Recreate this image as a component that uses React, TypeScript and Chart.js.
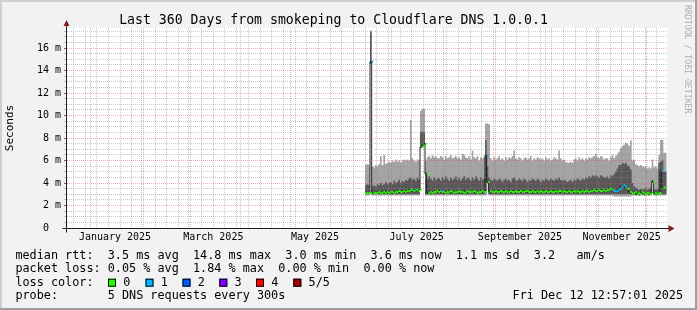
import React, { useEffect, useRef } from 'react';
import { Chart, registerables } from 'chart.js';

Chart.register(...registerables);

const FONT = "'DejaVu Sans Mono', monospace";
Chart.defaults.font.family = FONT;

// ---------- text ----------
const TITLE = 'Last 360 Days from smokeping to Cloudflare DNS 1.0.0.1';
const Y_TITLE = 'Seconds';
const WATERMARK = 'RRDTOOL / TOBI OETIKER';
const ROW_LABELS = ['median rtt:', 'packet loss:', 'loss color:', 'probe:'];
const RTT_STATS = ['3.5 ms avg', '14.8 ms max', '3.0 ms min', '3.6 ms now', '1.1 ms sd', '3.2', 'am/s'];
const LOSS_STATS = ['0.05 % avg', '1.84 % max', '0.00 % min', '0.00 % now'];
const LOSS_LABELS = ['0', '1', '2', '3', '4', '5/5'];
const LOSS_COLORS = ['#26ff00', '#00b8ff', '#0059ff', '#7e00ff', '#ff0000', '#a10000'];
const PROBE_TEXT = '5 DNS requests every 300s';
const DATE_TEXT = 'Fri Dec 12 12:57:01 2025';

// ---------- axes (x in days since 2025-01-01 00:00) ----------
const X_MIN = -13.8;
const X_MAX = 346.2;
const Y_MAX = 17.78; // milliseconds
const MONTH_START_DAYS = [0, 31, 59, 90, 120, 151, 181, 212, 243, 273, 304, 334];
const MONTH_LABEL_DAYS = [15, 74, 135, 196, 258, 319];
const MONTH_LABELS = ['January 2025', 'March 2025', 'May 2025', 'July 2025', 'September 2025', 'November 2025'];
const FIRST_SUNDAY = -10;

// ---------- data: one value per day, first day = 165 (2025-06-15) ----------
const FIRST_DAY = 165;
const maxRtt = [
  5.6, 5.6, 5.7, 5.6, 17.6, 5.5, 5.4, 5.6, 5.5, 5.7,
  6.4, 5.6, 6.5, 5.7, 5.8, 5.9, 5.8, 6.0, 5.9, 6.1,
  5.9, 6.0, 5.8, 6.0, 6.1, 6.0, 6.1, 6.0, 9.6, 6.2,
  6.0, 5.9, 6.1, 6.0, 10.4, 10.6, 10.6, 6.0, 6.3, 6.4,
  6.2, 6.5, 6.3, 6.4, 6.2, 6.2, 6.4, 6.3, 6.1, 6.4,
  6.2, 6.3, 6.5, 6.2, 6.3, 6.4, 6.2, 6.3, 6.1, 6.6,
  6.5, 6.3, 6.2, 6.4, 6.1, 6.9, 6.3, 6.2, 6.4, 6.0,
  6.3, 6.2, 6.3, 9.3, 9.3, 9.2, 6.2, 6.0, 6.3, 6.1,
  6.2, 6.4, 6.1, 6.2, 6.0, 6.3, 6.1, 6.3, 6.2, 6.4,
  6.9, 6.2, 6.1, 6.3, 6.2, 6.0, 6.2, 6.3, 6.1, 6.2,
  6.4, 6.0, 6.2, 6.1, 6.3, 6.2, 6.1, 6.2, 6.0, 6.3,
  6.1, 6.2, 6.0, 6.1, 6.3, 6.2, 6.1, 6.9, 6.2, 6.0,
  6.1, 5.9, 5.8, 5.8, 5.9, 5.8, 6.1, 6.2, 6.0, 6.3,
  6.1, 6.2, 6.0, 6.2, 6.1, 6.3, 6.2, 6.3, 6.4, 6.6,
  6.3, 6.2, 6.4, 6.3, 6.1, 6.2, 6.2, 6.0, 6.3, 6.5,
  6.2, 6.4, 6.6, 6.8, 7.1, 7.3, 7.4, 7.6, 7.5, 7.3,
  7.8, 6.0, 6.1, 5.7, 5.6, 5.5, 5.6, 5.5, 5.4, 5.5,
  5.3, 5.4, 5.3, 6.1, 5.4, 5.5, 5.3, 6.5, 7.85, 7.85,
  6.7,
];
const p75Rtt = [
  3.9, 3.8, 3.9, 3.8, 17.4, 3.7, 3.8, 3.7, 3.9, 3.8,
  4.0, 3.8, 3.9, 4.1, 3.9, 4.0, 4.1, 3.9, 4.2, 4.0,
  4.1, 4.3, 4.0, 4.2, 4.1, 4.3, 4.2, 4.4, 4.5, 4.3,
  4.4, 4.2, 4.5, 4.3, 8.5, 8.6, 8.5, 5.0, 4.3, 4.6,
  4.4, 4.2, 4.5, 4.3, 4.4, 4.4, 4.2, 4.5, 4.3, 4.6,
  4.4, 4.2, 4.5, 4.3, 4.4, 4.6, 4.3, 4.5, 4.2, 4.4,
  4.6, 4.3, 4.5, 4.4, 4.2, 4.5, 4.3, 4.6, 4.4, 4.2,
  4.5, 4.3, 4.4, 7.8, 5.5, 4.5, 4.3, 4.2, 4.4, 4.3,
  4.2, 4.4, 4.3, 4.1, 4.3, 4.4, 4.2, 4.3, 4.1, 4.4,
  4.5, 4.3, 4.2, 4.4, 4.3, 4.2, 4.4, 4.3, 4.1, 4.3,
  4.2, 4.4, 4.3, 4.2, 4.4, 4.3, 4.1, 4.3, 4.2, 4.4,
  4.3, 4.2, 4.4, 4.3, 4.2, 4.4, 4.3, 4.5, 4.3, 4.2,
  4.3, 4.2, 4.1, 4.2, 4.3, 4.1, 4.3, 4.2, 4.4, 4.3,
  4.2, 4.4, 4.3, 4.5, 4.4, 4.6, 4.5, 4.7, 4.6, 4.7,
  4.6, 4.5, 4.7, 4.6, 4.5, 4.5, 4.6, 4.4, 4.7, 4.6,
  4.8, 5.0, 5.3, 5.6, 5.6, 5.8, 5.7, 5.8, 5.6, 5.5,
  5.2, 4.0, 3.7, 3.6, 3.5, 3.4, 3.5, 3.4, 3.5, 3.6,
  3.4, 3.5, 3.6, 4.3, 3.5, 3.4, 3.5, 5.8, 5.9, 6.0,
  5.0,
];
const medianRtt = [
  3.1, 3.1, 3.1, 3.1, 14.8, 3.1, 3.1, 3.1, 3.2, 3.1,
  3.1, 3.2, 3.1, 3.2, 3.1, 3.2, 3.2, 3.1, 3.2, 3.2,
  3.3, 3.2, 3.2, 3.3, 3.2, 3.3, 3.3, 3.4, 3.4, 3.3,
  3.4, 3.4, 3.3, 3.4, 7.2, 7.3, 7.5, 4.8, 3.1, 3.2,
  3.1, 3.2, 3.2, 3.3, 3.2, 3.3, 3.2, 3.2, 3.1, 3.2,
  3.2, 3.3, 3.2, 3.1, 3.2, 3.2, 3.3, 3.2, 3.2, 3.1,
  3.2, 3.3, 3.2, 3.2, 3.2, 3.3, 3.2, 3.1, 3.2, 3.2,
  3.3, 3.2, 3.2, 6.5, 4.1, 3.3, 3.2, 3.2, 3.3, 3.2,
  3.2, 3.3, 3.2, 3.2, 3.3, 3.2, 3.2, 3.3, 3.2, 3.2,
  3.3, 3.2, 3.2, 3.3, 3.2, 3.2, 3.3, 3.3, 3.2, 3.2,
  3.3, 3.2, 3.2, 3.3, 3.2, 3.3, 3.2, 3.2, 3.3, 3.2,
  3.2, 3.3, 3.2, 3.2, 3.3, 3.2, 3.3, 3.3, 3.2, 3.3,
  3.2, 3.2, 3.3, 3.2, 3.2, 3.3, 3.2, 3.3, 3.2, 3.2,
  3.3, 3.2, 3.3, 3.3, 3.2, 3.3, 3.3, 3.4, 3.3, 3.3,
  3.4, 3.3, 3.3, 3.4, 3.3, 3.4, 3.4, 3.5, 3.4, 3.3,
  3.3, 3.3, 3.4, 3.5, 3.7, 3.8, 3.7, 3.5, 3.5, 3.2,
  3.1, 3.1, 3.2, 3.0, 3.1, 3.0, 3.2, 3.1, 3.0, 3.1,
  3.1, 3.0, 3.1, 4.1, 3.1, 3.0, 3.1, 3.1, 5.1, 3.6,
  3.6,
];
const p25Rtt = [
  3.0, 3.0, 3.0, 3.0, 14.6, 3.0, 3.0, 3.0, 3.0, 3.0,
  3.0, 3.0, 3.0, 3.0, 3.0, 3.0, 3.0, 3.0, 3.0, 3.0,
  3.0, 3.0, 3.0, 3.0, 3.0, 3.0, 3.0, 3.0, 3.0, 3.0,
  3.0, 3.0, 3.0, 3.0, 7.15, 7.2, 7.4, 3.0, 3.0, 3.0,
  3.0, 3.0, 3.0, 3.0, 3.0, 3.0, 3.0, 3.0, 3.0, 3.0,
  3.0, 3.0, 3.0, 3.0, 3.0, 3.0, 3.0, 3.0, 3.0, 3.0,
  3.0, 3.0, 3.0, 3.0, 3.0, 3.0, 3.0, 3.0, 3.0, 3.0,
  3.0, 3.0, 3.0, 3.1, 4.05, 3.0, 3.0, 3.0, 3.0, 3.0,
  3.0, 3.0, 3.0, 3.0, 3.0, 3.0, 3.0, 3.0, 3.0, 3.0,
  3.0, 3.0, 3.0, 3.0, 3.0, 3.0, 3.0, 3.0, 3.0, 3.0,
  3.0, 3.0, 3.0, 3.0, 3.0, 3.0, 3.0, 3.0, 3.0, 3.0,
  3.0, 3.0, 3.0, 3.0, 3.0, 3.0, 3.0, 3.0, 3.0, 3.0,
  3.0, 3.0, 3.0, 3.0, 3.0, 3.0, 3.0, 3.0, 3.0, 3.0,
  3.0, 3.0, 3.0, 3.0, 3.0, 3.0, 3.0, 3.0, 3.0, 3.0,
  3.0, 3.0, 3.0, 3.0, 3.0, 3.0, 3.0, 3.0, 3.0, 3.0,
  3.0, 3.0, 3.0, 3.0, 3.0, 3.0, 3.0, 3.0, 3.0, 3.0,
  3.0, 3.0, 3.0, 2.95, 3.0, 2.95, 3.0, 3.0, 2.95, 3.0,
  3.0, 2.95, 3.0, 4.05, 3.0, 2.95, 3.0, 3.0, 3.0, 3.0,
  3.0,
];
const minRtt = [
  2.9, 2.9, 2.9, 2.9, 14.5, 2.9, 2.9, 2.9, 2.9, 2.9,
  2.9, 2.9, 2.9, 2.9, 2.9, 2.9, 2.9, 2.9, 2.9, 2.9,
  2.9, 2.9, 2.9, 2.9, 2.9, 2.9, 2.9, 2.9, 2.9, 2.9,
  2.9, 2.9, 2.9, 2.9, 7.1, 7.15, 7.3, 2.9, 2.9, 2.9,
  2.9, 2.9, 2.9, 2.9, 2.9, 2.9, 2.9, 2.9, 2.9, 2.9,
  2.9, 2.9, 2.9, 2.9, 2.9, 2.9, 2.9, 2.9, 2.9, 2.9,
  2.9, 2.9, 2.9, 2.9, 2.9, 2.9, 2.9, 2.9, 2.9, 2.9,
  2.9, 2.9, 2.9, 2.9, 4.0, 2.9, 2.9, 2.9, 2.9, 2.9,
  2.9, 2.9, 2.9, 2.9, 2.9, 2.9, 2.9, 2.9, 2.9, 2.9,
  2.9, 2.9, 2.9, 2.9, 2.9, 2.9, 2.9, 2.9, 2.9, 2.9,
  2.9, 2.9, 2.9, 2.9, 2.9, 2.9, 2.9, 2.9, 2.9, 2.9,
  2.9, 2.9, 2.9, 2.9, 2.9, 2.9, 2.9, 2.9, 2.9, 2.9,
  2.9, 2.9, 2.9, 2.9, 2.9, 2.9, 2.9, 2.9, 2.9, 2.9,
  2.9, 2.9, 2.9, 2.9, 2.9, 2.9, 2.9, 2.9, 2.9, 2.9,
  2.9, 2.9, 2.9, 2.9, 2.9, 2.9, 2.9, 2.9, 2.9, 2.9,
  2.8, 2.8, 2.8, 2.8, 2.8, 2.8, 2.8, 2.8, 2.8, 2.8,
  2.8, 2.9, 2.9, 2.85, 2.9, 2.85, 2.9, 2.9, 2.85, 2.9,
  2.9, 2.85, 2.9, 4.0, 2.9, 2.85, 2.9, 2.9, 2.9, 2.9,
  2.9,
];
const lostPings = [
  0, 0, 0, 0, 1, 0, 0, 0, 0, 0,
  0, 0, 0, 0, 0, 0, 0, 0, 0, 0,
  0, 0, 0, 0, 0, 0, 0, 0, 0, 0,
  1, 0, 0, 0, 0, 0, 0, 0, 0, 0,
  0, 0, 0, 0, 0, 1, 0, 0, 0, 0,
  0, 0, 0, 0, 0, 0, 0, 0, 0, 0,
  0, 0, 0, 0, 0, 0, 0, 0, 0, 0,
  0, 0, 0, 1, 0, 0, 0, 0, 0, 0,
  0, 0, 0, 0, 0, 0, 0, 0, 0, 0,
  0, 0, 0, 0, 0, 0, 0, 0, 0, 0,
  0, 0, 0, 0, 0, 0, 0, 0, 0, 0,
  0, 0, 0, 0, 0, 0, 0, 0, 0, 0,
  0, 0, 0, 0, 0, 0, 0, 0, 0, 0,
  0, 0, 0, 0, 0, 0, 0, 0, 0, 0,
  0, 0, 0, 0, 0, 0, 0, 0, 0, 1,
  1, 1, 1, 1, 1, 1, 1, 0, 0, 0,
  0, 0, 0, 0, 0, 0, 0, 0, 0, 0,
  0, 0, 0, 0, 0, 0, 0, 0, 1, 0,
  0,
];

// ---------- styling ----------
const BACK = '#f2f2f2';
const CANVAS = '#ffffff';
const SHADE_A = '#cfcfcf';
const SHADE_B = '#9e9e9e';
const GRID = 'rgba(143,143,143,0.5)';
const MGRID = 'rgba(222,79,79,0.45)';
const AXIS = '#1f1f1f';
const ARROW = '#801f1f';
const SMOKE_OUTER = '#a4a4a4';
const SMOKE_INNER = '#585858';
const MEDIAN_LINE = '#202020';

const LEG_FONT = `11.8px ${FONT}`;
const ROW_Y = [258.5, 272.1, 285.7, 299.3];
const LEG_X0 = 15.4;
const SWATCH_X = [108, 145.5, 182.5, 219.3, 256, 293.3];
const DATE_X = 512.6;

function buildConfig(): any {
  const days = medianRtt.map((_, i) => FIRST_DAY + i);
  const endDay = FIRST_DAY + medianRtt.length;
  const stepPts = (vals: number[]) => [
    ...vals.map((v, i) => ({ x: days[i], y: v })),
    { x: endDay, y: vals[vals.length - 1] },
  ];
  const bandPts: any[] = [];
  medianRtt.forEach((v, i) => {
    bandPts.push({ x: days[i], y: v }, { x: days[i] + 1, y: v }, { x: days[i] + 1, y: null });
  });

  const weekDays: number[] = [];
  for (let d = FIRST_SUNDAY; d <= X_MAX; d += 7) {
    if (d >= X_MIN && !MONTH_START_DAYS.includes(d)) weekDays.push(d);
  }
  const monthDays = MONTH_START_DAYS.filter((d) => d >= X_MIN && d <= X_MAX);
  const xTicks = Array.from(new Set([...weekDays, ...monthDays, ...MONTH_LABEL_DAYS])).sort((a, b) => a - b);
  const yTicks: number[] = [];
  for (let v = 0; v < Y_MAX; v += 0.5) yTicks.push(v);

  const row1 = `${ROW_LABELS[0]}  ${RTT_STATS.slice(0, 6).join('  ')}   ${RTT_STATS[6]}`;
  const row2 = `${ROW_LABELS[1]} ${LOSS_STATS.join('  ')}`;
  const row4 = `${ROW_LABELS[3]}       ${PROBE_TEXT}`;

  const none = 'rgba(0,0,0,0)';

  const rrdPlugin = {
    id: 'rrdFrame',
    beforeDraw(chart: any) {
      const { ctx, chartArea: a, width, height } = chart;
      ctx.save();
      ctx.fillStyle = BACK;
      ctx.fillRect(0, 0, width, height);
      ctx.fillStyle = CANVAS;
      ctx.fillRect(a.left, a.top, a.right - a.left, a.bottom - a.top);
      ctx.restore();
    },
    afterDraw(chart: any) {
      const { ctx, width, height } = chart;
      const xs = chart.scales.x;
      const ys = chart.scales.y;
      const x0 = Math.round(xs.getPixelForValue(X_MIN)) - 0.5;
      const x1 = Math.round(xs.getPixelForValue(X_MAX));
      const y0 = Math.round(ys.getPixelForValue(0)) + 0.5;
      const yTop = ys.getPixelForValue(Y_MAX);
      ctx.save();
      // axes
      ctx.strokeStyle = AXIS;
      ctx.lineWidth = 1;
      ctx.beginPath();
      ctx.moveTo(x0 - 4, y0);
      ctx.lineTo(x1 + 2, y0);
      ctx.moveTo(x0, y0 + 4);
      ctx.lineTo(x0, yTop - 3);
      ctx.stroke();
      // arrows
      ctx.fillStyle = ARROW;
      ctx.beginPath();
      ctx.moveTo(x0 - 3, yTop - 2);
      ctx.lineTo(x0 + 3, yTop - 2);
      ctx.lineTo(x0, yTop - 8);
      ctx.closePath();
      ctx.fill();
      ctx.beginPath();
      ctx.moveTo(x1 + 1.5, y0 - 3.5);
      ctx.lineTo(x1 + 1.5, y0 + 3.5);
      ctx.lineTo(x1 + 7.5, y0);
      ctx.closePath();
      ctx.fill();

      // legend
      ctx.font = LEG_FONT;
      ctx.fillStyle = '#000';
      ctx.textBaseline = 'alphabetic';
      ctx.textAlign = 'left';
      ctx.fillText(row1, LEG_X0, ROW_Y[0]);
      ctx.fillText(row2, LEG_X0, ROW_Y[1]);
      ctx.fillText(ROW_LABELS[2], LEG_X0, ROW_Y[2]);
      LOSS_LABELS.forEach((t, i) => {
        const sx = SWATCH_X[i];
        ctx.fillStyle = LOSS_COLORS[i];
        ctx.fillRect(sx, ROW_Y[2] - 7, 8, 8);
        ctx.strokeStyle = '#000';
        ctx.strokeRect(sx + 0.5, ROW_Y[2] - 6.5, 7, 7);
        ctx.fillStyle = '#000';
        ctx.fillText(t, sx + 15.3, ROW_Y[2]);
      });
      ctx.fillText(row4, LEG_X0, ROW_Y[3]);
      ctx.fillText(DATE_TEXT, DATE_X, ROW_Y[3]);

      // watermark
      ctx.save();
      ctx.translate(685, 5);
      ctx.rotate(Math.PI / 2);
      ctx.font = `8.2px ${FONT}`;
      ctx.fillStyle = 'rgba(0,0,0,0.3)';
      ctx.fillText(WATERMARK, 0, 0);
      ctx.restore();

      // frame shades
      ctx.fillStyle = SHADE_A;
      ctx.fillRect(0, 0, width, 2);
      ctx.fillRect(0, 0, 2, height);
      ctx.fillStyle = SHADE_B;
      ctx.fillRect(0, height - 2, width, 2);
      ctx.fillRect(width - 2, 0, 2, height);
      ctx.restore();
    },
  };

  const smoke = (label: string, vals: number[], fill: any, bg: string) => ({
    label,
    data: stepPts(vals),
    stepped: 'after',
    borderWidth: 0,
    borderColor: none,
    backgroundColor: bg,
    fill,
    pointRadius: 0,
  });

  return {
    type: 'line',
    data: {
      datasets: [
        {
          label: 'median (loss colour)',
          data: bandPts,
          borderWidth: 2,
          borderColor: LOSS_COLORS[0],
          borderCapStyle: 'butt',
          segment: {
            borderColor: (c: any) => LOSS_COLORS[lostPings[Math.floor(c.p0DataIndex / 3)]],
          },
          spanGaps: false,
          pointRadius: 0,
          fill: false,
        },
        {
          label: 'median',
          data: stepPts(medianRtt),
          stepped: 'after',
          borderWidth: 1,
          borderColor: MEDIAN_LINE,
          pointRadius: 0,
          fill: false,
        },
        smoke('p75', p75Rtt, '+1', SMOKE_INNER),
        smoke('p25', p25Rtt, false, none),
        smoke('max', maxRtt, '+1', SMOKE_OUTER),
        smoke('min', minRtt, false, none),
      ],
    },
    options: {
      responsive: false,
      animation: false,
      devicePixelRatio: 1,
      events: [],
      layout: { padding: { top: 0, right: 30, bottom: 0, left: 0 } },
      plugins: {
        legend: { display: false },
        tooltip: { enabled: false },
        title: {
          display: true,
          text: TITLE,
          color: '#000',
          font: { family: FONT, size: 13.2, weight: 'normal', lineHeight: 1.15 },
          padding: { top: 12.8, bottom: 0 },
        },
      },
      scales: {
        x: {
          type: 'linear',
          min: X_MIN,
          max: X_MAX,
          bounds: 'data',
          afterBuildTicks: (s: any) => {
            s.ticks = xTicks.map((v) => ({ value: v }));
          },
          afterFit: (s: any) => {
            s.height = 82;
          },
          ticks: {
            autoSkip: false,
            maxRotation: 0,
            padding: 3,
            color: '#000',
            font: { family: FONT, size: 10 },
            callback: (v: number) => {
              const k = MONTH_LABEL_DAYS.indexOf(v);
              return k >= 0 ? MONTH_LABELS[k] : '';
            },
          },
          grid: {
            z: 1,
            drawTicks: false,
            lineWidth: 1,
            color: (c: any) => {
              const v = c.tick && c.tick.value;
              if (MONTH_START_DAYS.includes(v)) return MGRID;
              if (weekDays.includes(v)) return GRID;
              return none;
            },
          },
          border: { display: false, dash: [1, 1] },
        },
        y: {
          type: 'linear',
          min: 0,
          max: Y_MAX,
          bounds: 'data',
          afterBuildTicks: (s: any) => {
            s.ticks = yTicks.map((v) => ({ value: v }));
          },
          afterFit: (s: any) => {
            s.width = 67;
          },
          ticks: {
            autoSkip: false,
            padding: 3,
            color: '#000',
            font: { family: FONT, size: 10 },
            callback: (v: number) => (v === 0 ? '0  ' : v % 2 === 0 ? `${v} m` : ''),
          },
          grid: {
            z: 1,
            drawTicks: true,
            tickLength: 3,
            lineWidth: 1,
            color: (c: any) => {
              const v = c.tick && c.tick.value;
              if (v === 0) return none;
              return v % 2 === 0 ? MGRID : GRID;
            },
            tickColor: (c: any) => {
              const v = c.tick && c.tick.value;
              return v % 2 === 0 ? 'rgba(160,60,60,0.9)' : GRID;
            },
          },
          border: { display: false, dash: [1, 1] },
          title: {
            display: true,
            text: Y_TITLE,
            color: '#000',
            font: { family: FONT, size: 11 },
            padding: { top: 3.5, bottom: 0 },
          },
        },
      },
    },
    plugins: [rrdPlugin],
  };
}

export default function App() {
  const ref = useRef<HTMLCanvasElement>(null);
  useEffect(() => {
    const canvas = ref.current;
    if (!canvas) return;
    const chart = new Chart(canvas, buildConfig());
    return () => chart.destroy();
  }, []);
  return (
    <div style={{ position: 'absolute', left: 0, top: 0, width: 697, height: 310 }}>
      <canvas ref={ref} width={697} height={310} style={{ display: 'block', width: 697, height: 310 }} />
    </div>
  );
}
